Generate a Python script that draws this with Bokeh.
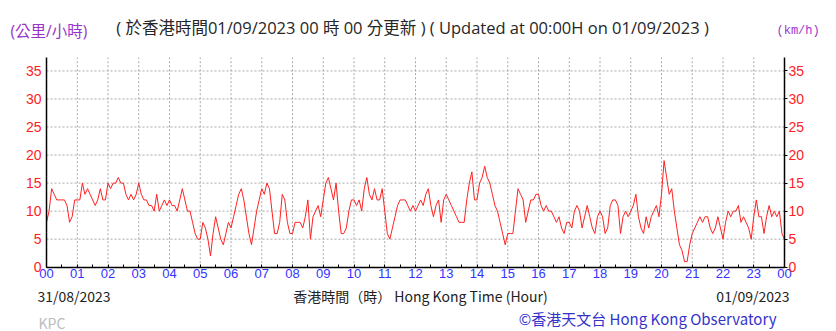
from bokeh.plotting import figure
from bokeh.models import Range1d, LinearAxis, FixedTicker
from bokeh.core.properties import value
from bokeh.embed import file_html
from bokeh.resources import INLINE
import numpy as np

# ---- data (5-minute wind speed, km/h, 00:00 31/08 to 00:00 01/09) ----
h00 = [8, 10, 14, 13, 12, 12, 12, 12, 11, 8, 9, 12]
h01 = [12, 12, 15, 13, 14, 13, 12, 11, 12, 14, 12, 12]
h02 = [15, 14, 15, 15, 16, 15, 15, 13, 12, 13, 12, 13]
h03 = [15, 13, 12, 12, 11, 11, 10, 13, 10, 11, 12, 11]
h04 = [12, 11, 11, 10, 12, 14, 12, 10, 10, 8, 6, 5]
h05 = [5, 8, 7, 5, 2, 6, 9, 7, 5, 4, 6, 8]
h06 = [7, 9, 11, 13, 14, 12, 9, 6, 4, 7, 10, 12]
h07 = [14, 13, 15, 14, 10, 6, 6, 8, 13, 12, 8, 6]
h08 = [6, 8, 8, 8, 7, 9, 12, 5, 9, 10, 11, 9]
h09 = [12, 15, 16, 14, 12, 15, 10, 6, 6, 7, 10, 12]
h10 = [12, 11, 12, 10, 14, 16, 13, 12, 14, 12, 12, 14]
h11 = [10, 6, 5, 7, 9, 11, 12, 12, 12, 11, 10, 11]
h12 = [10, 11, 12, 11, 13, 14, 11, 9, 11, 12, 8, 12]
h13 = [13, 12, 11, 10, 9, 8, 8, 8, 12, 15, 17, 12]
h14 = [12, 15, 16, 18, 16, 15, 13, 11, 10, 8, 6, 4]
h15 = [6, 6, 6, 10, 14, 13, 12, 8, 10, 12, 12, 13]
h16 = [13, 11, 10, 11, 10, 10, 9, 8, 9, 7, 6, 8]
h17 = [8, 7, 10, 11, 10, 7, 9, 11, 9, 7, 6, 9]
h18 = [10, 9, 6, 7, 11, 12, 12, 11, 6, 9, 10, 9]
h19 = [10, 11, 13, 9, 7, 6, 9, 7, 9, 10, 11, 9]
h20 = [13, 19, 16, 13, 14, 10, 7, 4, 3, 1, 1, 4]
h21 = [6, 7, 8, 9, 8, 9, 9, 7, 6, 7, 9, 7]
h22 = [5, 8, 10, 9, 10, 10, 11, 8, 9, 8, 7, 5]
h23 = [9, 12, 9, 9, 6, 9, 11, 9, 10, 9, 10, 6, 5]
speed_kmh = (h00 + h01 + h02 + h03 + h04 + h05 + h06 + h07 + h08 + h09 + h10 + h11 +
             h12 + h13 + h14 + h15 + h16 + h17 + h18 + h19 + h20 + h21 + h22 + h23)
step_minutes = 5

hour_ticks = list(range(0, 25))
hour_labels = ["00", "01", "02", "03", "04", "05", "06", "07", "08", "09", "10", "11",
               "12", "13", "14", "15", "16", "17", "18", "19", "20", "21", "22", "23", "00"]
half_hour_ticks = [h + 0.5 for h in range(24)]
speed_ticks = [0, 5, 10, 15, 20, 25, 30, 35]
speed_max = 37.4

header = "( 於香港時間01/09/2023 00 時 00 分更新 ) ( Updated at 00:00H on 01/09/2023 )"
unit_zh = "(公里/小時)"
unit_en = "(km/h)"
date_start = "31/08/2023"
date_end = "01/09/2023"
x_title = "香港時間（時） Hong Kong Time (Hour)"
station = "KPC"
credit = "©香港天文台 Hong Kong Observatory"

# ---- layout geometry (canvas pixels) ----
W, H = 836, 331
PLOT_L, PLOT_R, PLOT_T, PLOT_B = 46.0, 784.0, 57.0, 266.7
px_per_h = (PLOT_R - PLOT_L) / 24.0
px_per_v = (PLOT_B - PLOT_T) / speed_max


def cx(px):  # canvas x -> data x
    return (px - PLOT_L) / px_per_h


def cy(py):  # canvas y (from top) -> data y
    return (PLOT_B - py) / px_per_v


CJK = "Noto Sans CJK TC"
MIXED = "Open Sans, Noto Sans CJK TC"

p = figure(width=W, height=H, output_backend="svg", toolbar_location=None,
           x_range=Range1d(cx(0), cx(W)), y_range=Range1d(cy(H), cy(0)),
           min_border_left=0, min_border_right=0, min_border_top=0, min_border_bottom=0,
           x_axis_location=None, y_axis_location=None, outline_line_color=None,
           background_fill_color="white", border_fill_color="white")
p.grid.visible = False

# dotted grid
grid_h = hour_ticks[1:-1]
p.segment(x0=grid_h, y0=[0] * len(grid_h), x1=grid_h, y1=[speed_max] * len(grid_h),
          line_color="#a8a8a8", line_dash="2 2", line_width=1)
grid_v = speed_ticks[1:]
p.segment(x0=[0] * len(grid_v), y0=grid_v, x1=[24] * len(grid_v), y1=grid_v,
          line_color="#a8a8a8", line_dash="2 2", line_width=1)

# axes at fixed locations
xa = LinearAxis(fixed_location=0, bounds=(0, 24),
                ticker=FixedTicker(ticks=hour_ticks, minor_ticks=half_hour_ticks),
                major_label_overrides={i: s for i, s in zip(hour_ticks, hour_labels)})
xa.axis_line_color = "black"
xa.axis_line_width = 1.5
xa.major_tick_in = 3
xa.major_tick_out = 0
xa.minor_tick_in = 3
xa.minor_tick_out = 0
xa.major_label_standoff = 2
xa.major_label_text_color = "#3333ff"
xa.major_label_text_font = "Liberation Sans"
xa.major_label_text_font_size = "13px"
p.add_layout(xa, "below")

ya = LinearAxis(fixed_location=0, bounds=(0, speed_max), ticker=FixedTicker(ticks=speed_ticks))
ya.axis_line_color = "black"
ya.axis_line_width = 1.5
ya.major_tick_in = 0
ya.major_tick_out = 0
ya.minor_tick_line_color = None
ya.major_label_standoff = 5
ya.major_label_text_color = "#ff2222"
ya.major_label_text_font = "Liberation Sans"
ya.major_label_text_font_size = "14px"
p.add_layout(ya, "left")

ya2 = LinearAxis(fixed_location=24, bounds=(0, speed_max), ticker=FixedTicker(ticks=speed_ticks))
ya2.axis_line_color = "black"
ya2.axis_line_width = 1.5
ya2.major_tick_in = 0
ya2.major_tick_out = 3
ya2.minor_tick_line_color = None
ya2.major_label_standoff = 1
ya2.major_label_text_color = "#ff2222"
ya2.major_label_text_font = "Liberation Sans"
ya2.major_label_text_font_size = "14px"
p.add_layout(ya2, "right")

# data line
t_hours = np.arange(len(speed_kmh)) * step_minutes / 60.0
p.line(t_hours, speed_kmh, line_color="#ff2020", line_width=1)


def put(px, py, text, color, size, font=CJK, align="left"):
    p.text(x=[cx(px)], y=[cy(py)], text=[text], text_color=color, text_font=value(font),
           text_font_size=value(size), text_align=align, text_baseline="middle")


put(412, 27, header, "#262626", "16.5px", font=MIXED, align="center")
put(10, 30, unit_zh, "#9933cc", "15.5px", font=MIXED)
put(776, 30, unit_en, "#9933cc", "12px", font="Liberation Mono")
put(37, 295, date_start, "#222222", "14px")
put(420, 295, x_title, "#222222", "14px", align="center")
put(789, 295, date_end, "#222222", "14px", align="right")
put(38, 322, station, "#bbbbbb", "14px")
put(776, 318, credit, "#3333cc", "15px", align="right")

open("out.html", "w").write(file_html(p, INLINE))
